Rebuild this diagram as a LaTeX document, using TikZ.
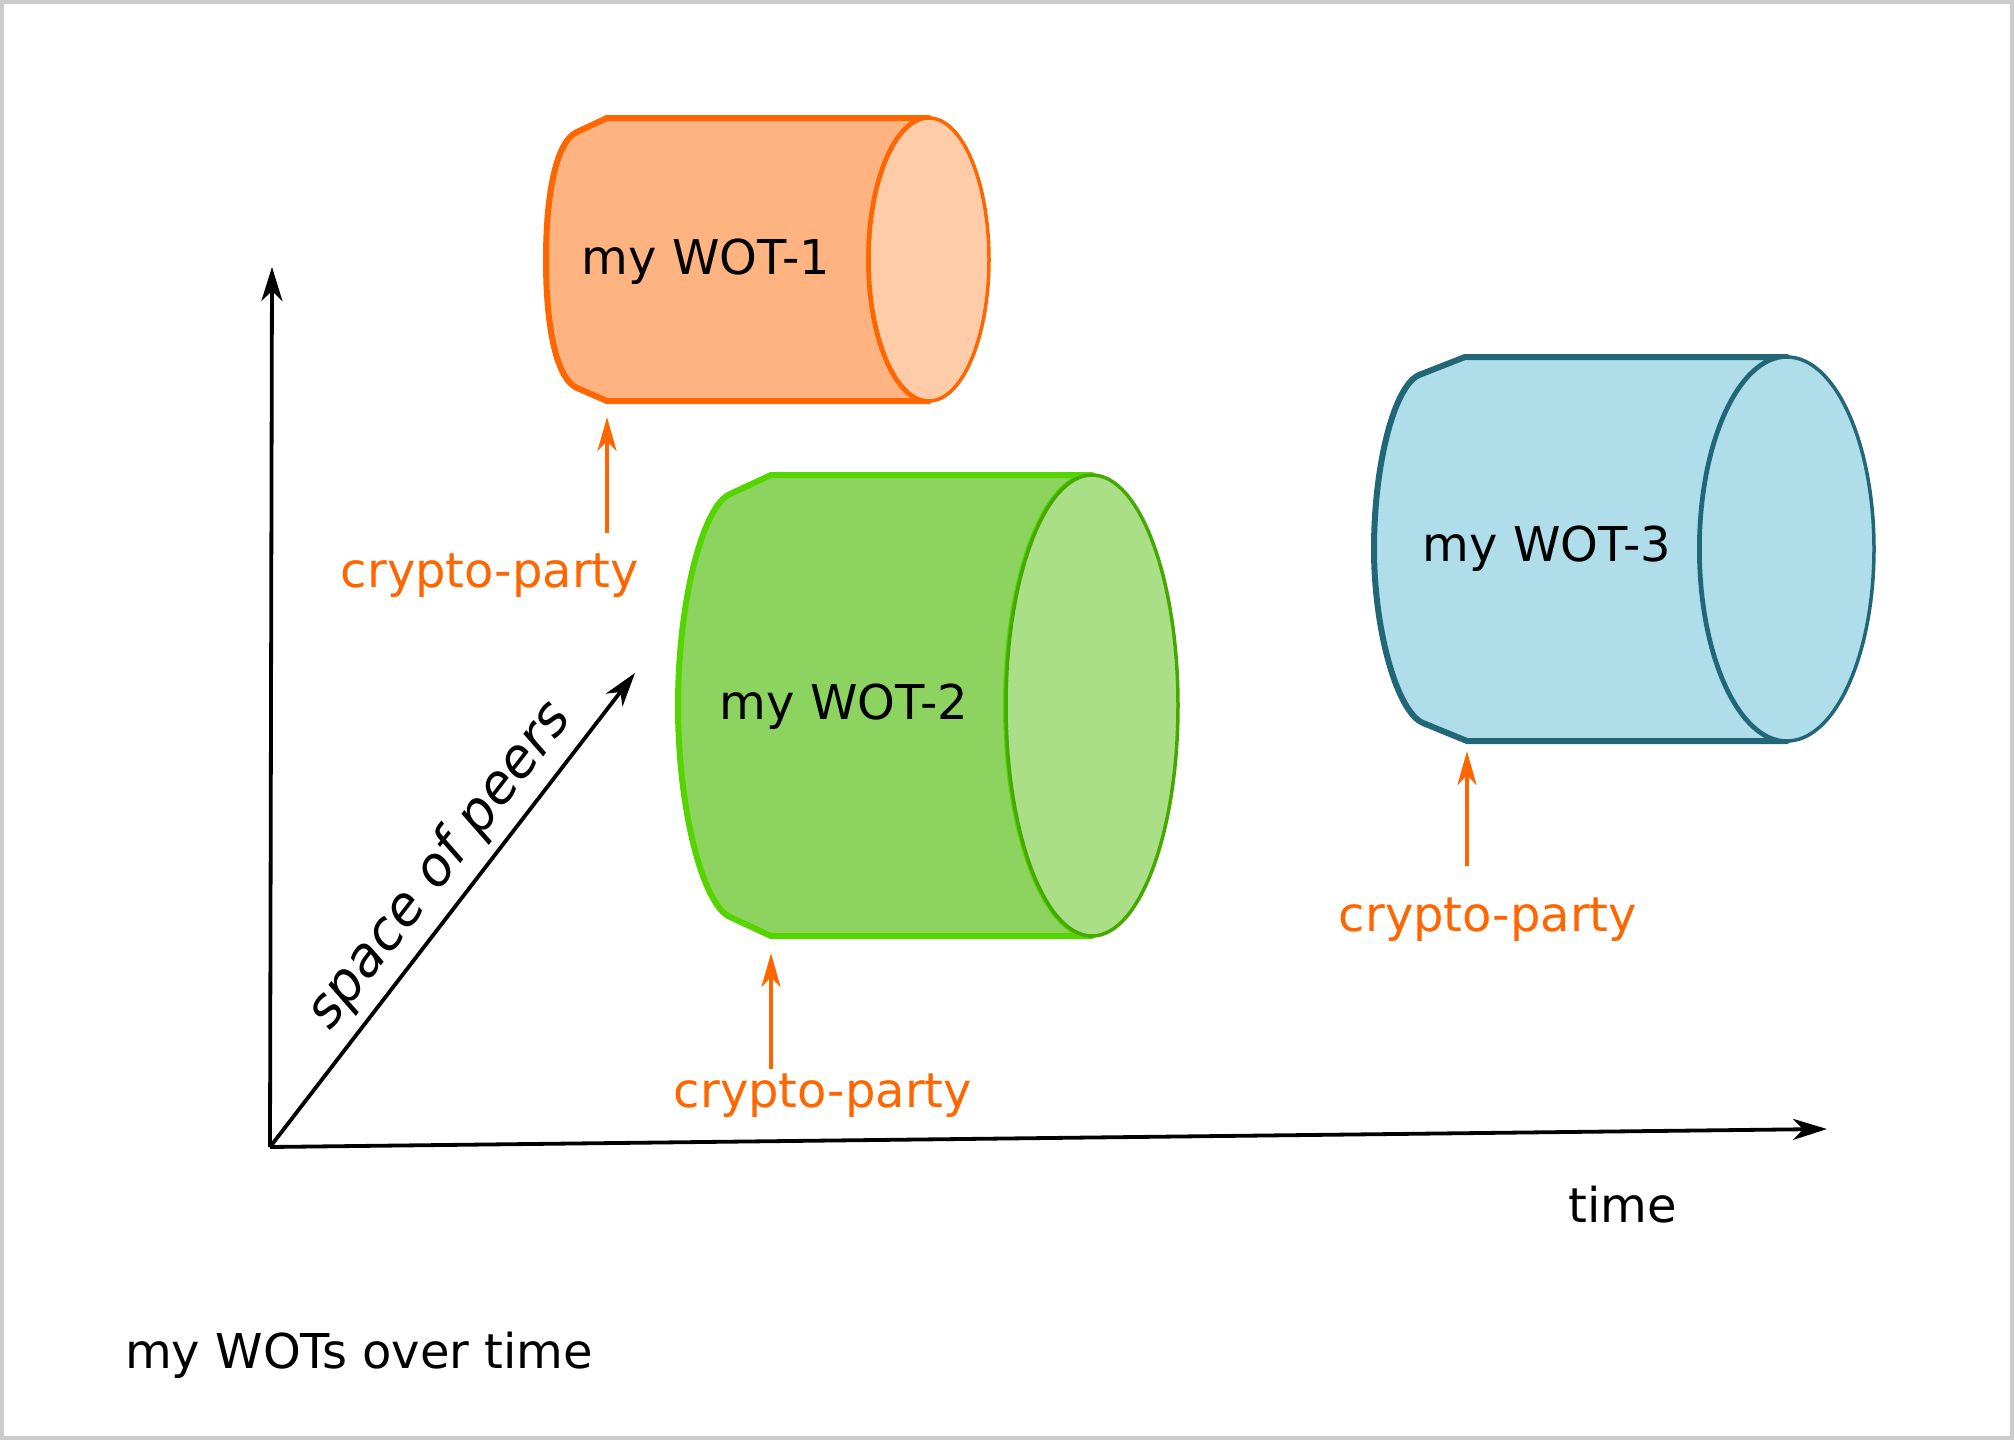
\documentclass[tikz,border=0pt]{standalone}
\usepackage{fontspec}
\setmainfont{DejaVu Sans}
\usetikzlibrary{arrows.meta}
\definecolor{borderg}{HTML}{CCCCCC}
\definecolor{oline}{HTML}{FF6600}
\definecolor{obody}{HTML}{FFB380}
\definecolor{oend}{HTML}{FFCCAA}
\definecolor{gline}{HTML}{55D400}
\definecolor{gbody}{HTML}{8DD35F}
\definecolor{gend}{HTML}{AADE87}
\definecolor{gendline}{HTML}{44AA00}
\definecolor{tline}{HTML}{216778}
\definecolor{tbody}{HTML}{AFDDE9}
\tikzset{
  lbl/.style={inner sep=0pt, font=\fontsize{48pt}{57pt}\selectfont},
  axis/.style={line width=3.8pt, -{Stealth[length=34pt,width=21pt,inset=10pt]}},
  oarrow/.style={draw=oline, line width=4.5pt, -{Stealth[length=34pt,width=19pt,inset=10pt]}},
  olbl/.style={lbl, text=oline},
  cylbody/.style={line width=6pt, line join=round},
  cylend/.style={line width=3.5pt},
}
\begin{document}
\begin{tikzpicture}[x=1pt,y=-1pt]
\useasboundingbox (0,0) rectangle (2014,1440);
\draw[borderg, line width=4pt] (2,2) rectangle (2012,1438);

% axes
\coordinate (O) at (270,1147);
\coordinate (Ytip) at (272,267);
\coordinate (Ttip) at (1827,1129);
\coordinate (Ptip) at (635,673);
\draw[axis] (O) -- (Ytip);
\draw[axis] (O) -- (Ttip);
\draw[axis] (O) -- (Ptip);
\node[lbl, font=\fontsize{54pt}{64pt}\selectfont\itshape, rotate=52.3] (sp) at (440,866) {space of peers};
\node[lbl, anchor=base] (time) at (1623,1222) {time};
\node[lbl, anchor=base west] (title) at (125,1368) {my WOTs over time};

% cylinder 1 (orange)
\filldraw[cylbody, draw=oline, fill=obody] (607,118) -- (929,118)
  arc[start angle=90, end angle=270, x radius=60pt, y radius=141.5pt]
  -- (607,401) -- (577,388) .. controls (557,379) and (546,330) .. (546,260)
  .. controls (546,190) and (557,141) .. (577,132) -- cycle;
\filldraw[cylend, draw=oline, fill=oend] (929,259.5) ellipse[x radius=60pt, y radius=141.5pt];
\node[lbl, anchor=base] (w1) at (706,274) {my WOT-1};

% cylinder 2 (green)
\filldraw[cylbody, draw=gline, fill=gbody] (771,475) -- (1092,475)
  arc[start angle=90, end angle=270, x radius=86pt, y radius=230.5pt]
  -- (771,936) -- (730,917) .. controls (703,905) and (678,810) .. (678,706)
  .. controls (678,600) and (703,506) .. (730,494) -- cycle;
\filldraw[cylend, draw=gendline, fill=gend] (1092,705.5) ellipse[x radius=86pt, y radius=230.5pt];
\node[lbl, anchor=base] (w2) at (844,719) {my WOT-2};

% cylinder 3 (teal)
\filldraw[cylbody, draw=tline, fill=tbody] (1465,357) -- (1787,357)
  arc[start angle=90, end angle=270, x radius=87pt, y radius=192pt]
  -- (1467,741) -- (1423,723) .. controls (1397,712) and (1374,630) .. (1374,549)
  .. controls (1374,465) and (1394,386) .. (1419,375) -- cycle;
\filldraw[cylend, draw=tline, fill=tbody] (1787,549) ellipse[x radius=87pt, y radius=192pt];
\node[lbl, anchor=base] (w3) at (1547,561) {my WOT-3};

% crypto-party arrows
\node[olbl, anchor=base] (cp1) at (490,587) {crypto-party};
\coordinate (a1s) at (607,533);
\coordinate (a1e) at (607,417);
\draw[oarrow] (a1s) -- (a1e);

\node[olbl, anchor=base] (cp2) at (823,1107) {crypto-party};
\coordinate (a2s) at (771,1069);
\coordinate (a2e) at (771,953);
\draw[oarrow] (a2s) -- (a2e);

\node[olbl, anchor=base] (cp3) at (1488,931) {crypto-party};
\coordinate (a3s) at (1467,866);
\coordinate (a3e) at (1467,751);
\draw[oarrow] (a3s) -- (a3e);
\end{tikzpicture}
\end{document}
